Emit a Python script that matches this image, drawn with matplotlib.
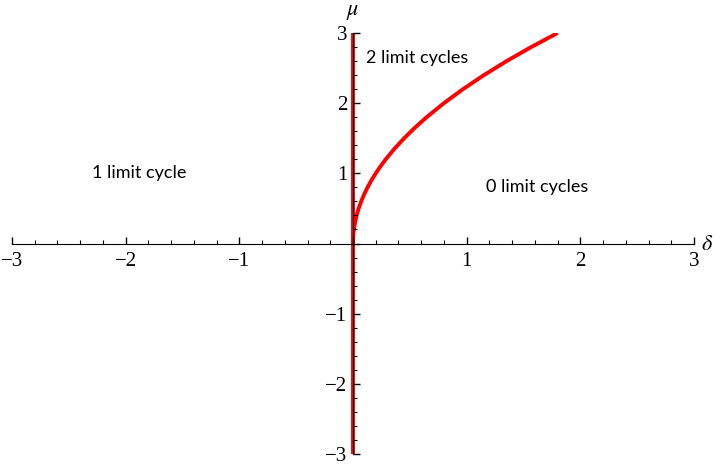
import numpy as np
import matplotlib.pyplot as plt
from matplotlib.ticker import MultipleLocator, FuncFormatter

plt.rcParams['mathtext.fontset'] = 'stix'

# bifurcation curve (delta vs mu)
mu_vals = [0, 0.02, 0.05, 0.1, 0.15, 0.2, 0.3, 0.4, 0.5, 0.6, 0.7, 0.8, 0.9, 1.0,
           1.1, 1.2, 1.35, 1.5, 1.65, 1.8, 2.0, 2.2, 2.4, 2.6, 2.8, 3.0]
delta_vals = [0, 0.00008, 0.0005, 0.002, 0.0045, 0.008, 0.018, 0.032, 0.05, 0.072,
              0.098, 0.128, 0.162, 0.2, 0.242, 0.288, 0.3645, 0.45, 0.5445, 0.648,
              0.8, 0.968, 1.152, 1.352, 1.568, 1.8]

# vertical branch along delta = 0
vert_mu = [-3, 3]
vert_delta = [0, 0]

labels = ["2 limit cycles", "1 limit cycle", "0 limit cycles"]
label_x = [0.56, -1.88, 1.62]
label_y = [2.65, 1.0, 0.81]

fig = plt.figure(figsize=(7.2, 4.67), dpi=100)
ax = fig.add_axes([12/720, 1 - 454/467, 682/720, 421/467])

ax.plot(vert_delta, vert_mu, color='#ff0000', lw=2.8, solid_capstyle='butt', zorder=1)
ax.plot(delta_vals, mu_vals, color='#ff0000', lw=2.8, solid_capstyle='butt',
        solid_joinstyle='round', zorder=1)

ax.set_xlim(-3, 3)
ax.set_ylim(-3, 3)

for s in ['top', 'right']:
    ax.spines[s].set_visible(False)
ax.spines['left'].set_position(('data', 0))
ax.spines['bottom'].set_position(('data', 0))
ax.spines['left'].set_zorder(3)
ax.spines['bottom'].set_zorder(3)
ax.patch.set_visible(False)

ax.xaxis.set_major_locator(MultipleLocator(1))
ax.xaxis.set_minor_locator(MultipleLocator(0.2))
ax.yaxis.set_major_locator(MultipleLocator(1))
ax.yaxis.set_minor_locator(MultipleLocator(0.2))

fmt = FuncFormatter(lambda v, p: '' if abs(v) < 1e-9 else ('\u2212%d' % abs(round(v)) if v < 0 else '%d' % round(v)))
ax.xaxis.set_major_formatter(fmt)
ax.yaxis.set_major_formatter(fmt)

ax.tick_params(which='major', direction='in', length=5, width=1, labelsize=15, pad=6)
ax.tick_params(which='minor', direction='in', length=3, width=0.8)
ax.tick_params(axis='y', which='major', pad=4)
for t in ax.get_xticklabels() + ax.get_yticklabels():
    t.set_family('Liberation Serif')

ax.text(3.06, 0, r'$\delta$', fontsize=16, ha='left', va='center', clip_on=False)
ax.text(0, 3.15, r'$\mu$', fontsize=16, ha='center', va='bottom', clip_on=False)

for txt, x, y in zip(labels, label_x, label_y):
    ax.text(x, y, txt, fontsize=13, family='Lato', ha='center', va='center')

fig.savefig('out.png', dpi=100)
